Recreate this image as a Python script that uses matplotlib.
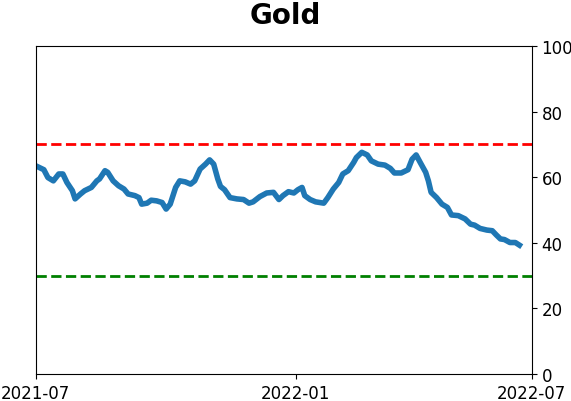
import matplotlib
matplotlib.use("Agg")
import matplotlib.pyplot as plt

# -------------------------
# DATA (days since 2021-07-01, indicator value)
# -------------------------
days = [0, 6, 9, 13, 17, 20, 23, 27, 29, 33, 36, 41, 45, 47, 51, 53, 57, 61,
        65, 68, 73, 76, 78, 82, 85, 89, 93, 96, 99, 103, 106, 110, 114, 117,
        121, 125, 128, 131, 134, 136, 139, 143, 148, 153, 157, 160, 165, 170,
        175, 179, 182, 186, 190, 193, 196, 198, 202, 206, 209, 212, 215, 219,
        223, 226, 230, 234, 236, 240, 244, 247, 252, 257, 261, 264, 269, 274,
        277, 280, 283, 287, 289, 291, 295, 299, 303, 306, 311, 316, 320, 323,
        327, 332, 336, 339, 342, 345, 349, 353, 356]
values = [63.5, 62.3, 59.9, 58.9, 61.0, 61.0, 58.4, 55.9, 53.4, 54.9, 55.9,
          56.9, 58.9, 59.5, 62.0, 61.5, 58.9, 57.4, 56.4, 54.9, 54.4, 53.8,
          51.8, 52.1, 53.0, 52.8, 52.3, 50.3, 51.8, 56.9, 58.9, 58.6, 57.9,
          58.9, 62.5, 64.0, 65.3, 64.0, 59.5, 57.2, 56.2, 53.8, 53.4, 53.2,
          52.1, 52.5, 54.1, 55.2, 55.4, 53.2, 54.4, 55.6, 55.2, 56.2, 56.9,
          54.4, 53.2, 52.5, 52.3, 52.1, 53.8, 56.4, 58.4, 61.0, 62.0, 64.5,
          66.0, 67.6, 66.8, 65.0, 64.0, 63.7, 62.7, 61.3, 61.3, 62.3, 65.5,
          66.8, 64.5, 61.5, 58.9, 55.4, 53.8, 51.8, 50.8, 48.5, 48.3, 47.3,
          45.7, 45.4, 44.4, 43.9, 43.7, 42.4, 41.2, 41.0, 40.1, 40.1, 39.3]

upper = 70
lower = 30
tick_days = [0, 191.5, 365]
tick_labels = ["2021-07", "2022-01", "2022-07"]

# -------------------------
# PLOTTING
# -------------------------
fig = plt.figure(figsize=(5.71, 4.02), dpi=100)
ax = fig.add_axes([0.0625, 0.067, 0.8686, 0.816])

ax.plot(days, values, color="#1f77b4", linewidth=4)
ax.axhline(upper, color="red", linestyle="--", linewidth=2)
ax.axhline(lower, color="green", linestyle="--", linewidth=2)

ax.set_xlim(0, 365)
ax.set_ylim(0, 100)
ax.set_xticks(tick_days)
ax.set_xticklabels(tick_labels)
ax.set_yticks([0, 20, 40, 60, 80, 100])
ax.yaxis.tick_right()
ax.tick_params(labelsize=12)

fig.suptitle("Gold", fontsize=20, fontweight="bold", y=0.995)

fig.savefig("out.png", dpi=100)
